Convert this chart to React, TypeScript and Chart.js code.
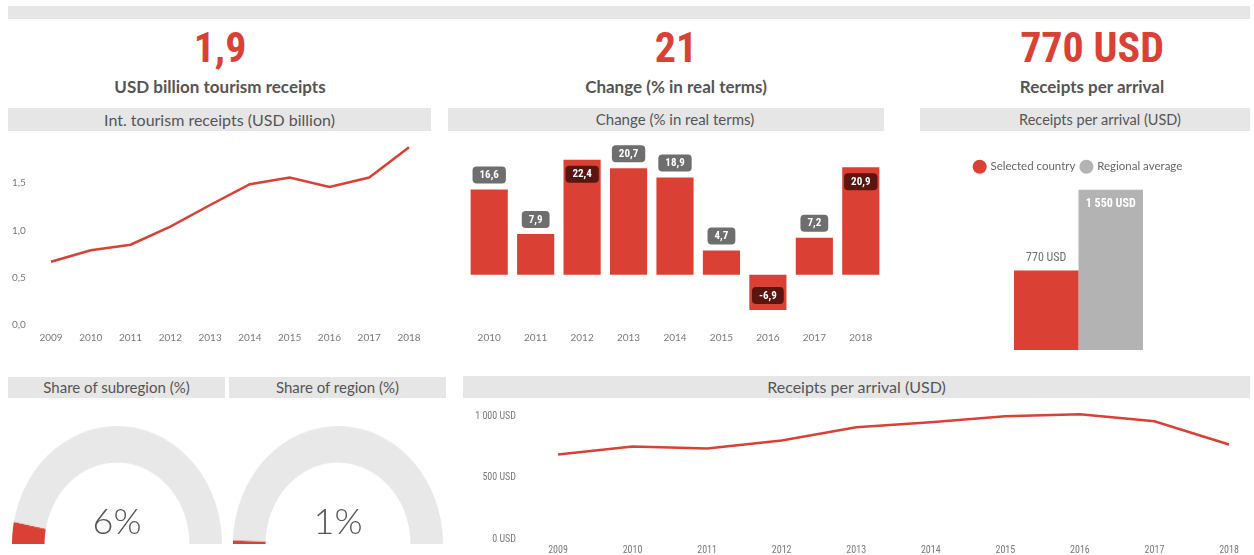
import React, { useEffect, useRef } from "react";
import { Chart, registerables } from "chart.js";

Chart.register(...registerables);

// ---------- DATA ----------
const RECEIPT_YEARS = ["2009", "2010", "2011", "2012", "2013", "2014", "2015", "2016", "2017", "2018"];
const RECEIPTS_BN = [0.67, 0.79, 0.85, 1.04, 1.27, 1.49, 1.56, 1.46, 1.56, 1.88];
const RECEIPTS_TICKS = [0, 0.5, 1.0, 1.5];

const CHANGE_YEARS = ["2010", "2011", "2012", "2013", "2014", "2015", "2016", "2017", "2018"];
const CHANGE_PCT = [16.6, 7.9, 22.4, 20.7, 18.9, 4.7, -6.9, 7.2, 20.9];

const COMPARE_LABELS = ["Selected country", "Regional average"];
const COMPARE_VALUES = [770, 1550];

const SHARE_SUBREGION = 6;
const SHARE_REGION = 1;

const ARRIVAL_YEARS = ["2009", "2010", "2011", "2012", "2013", "2014", "2015", "2016", "2017", "2018"];
const PER_ARRIVAL_USD = [689, 754, 738, 803, 910, 951, 1000, 1016, 959, 770];
const PER_ARRIVAL_TICKS = [0, 500, 1000];

const KPI_VALUES = ["1,9", "21", "770 USD"];
const KPI_LABELS = ["USD billion tourism receipts", "Change (% in real terms)", "Receipts per arrival"];

// ---------- STYLE ----------
const RED = "#db4035";
const GREY_BAR = "#b3b3b3";
const HEADER_BG = "#e6e6e6";
const GAUGE_BG = "#e8e8e8";
const TEXT = "#555555";
const TICK = "#7a7a7a";
const UI_FONT = 'Lato, "Open Sans", "Noto Sans", sans-serif';
const NARROW = '"Liberation Sans Narrow", "Roboto Condensed", Roboto, sans-serif';

const dec = (v: number, d = 1) => v.toFixed(d).replace(".", ",");
const usd = (v: number) => String(Math.round(v)).replace(/\B(?=(\d{3})+(?!\d))/g, " ") + " USD";

function ChartBox({ config, style }: { config: any; style: React.CSSProperties }) {
  const ref = useRef<HTMLCanvasElement | null>(null);
  useEffect(() => {
    const c = new Chart(ref.current as HTMLCanvasElement, config);
    return () => c.destroy();
  }, []);
  return (
    <div style={{ position: "absolute", ...style }}>
      <canvas ref={ref} />
    </div>
  );
}

function Header({ text, left, top, width, height, size, shift = 0 }: any) {
  return (
    <div
      style={{
        position: "absolute", left, top, width, height, background: HEADER_BG,
        color: TEXT, fontFamily: UI_FONT, fontSize: size, lineHeight: height + "px", textAlign: "center",
      }}
    >
      <span style={{ position: "relative", left: shift }}>{text}</span>
    </div>
  );
}

// --- configs ---
const receiptsConfig = {
  type: "line",
  data: {
    labels: RECEIPT_YEARS,
    datasets: [{ data: RECEIPTS_BN, borderColor: RED, borderWidth: 2.5, pointRadius: 0, tension: 0 }],
  },
  options: {
    animation: false, responsive: true, maintainAspectRatio: false,
    layout: { padding: { left: 4, right: 22, top: 4, bottom: 0 } },
    plugins: { legend: { display: false }, tooltip: { enabled: false } },
    scales: {
      x: {
        offset: false,
        grid: { display: false, drawTicks: false }, border: { display: false },
        ticks: { color: TICK, font: { family: UI_FONT, size: 10 }, padding: 7, maxRotation: 0 },
      },
      y: {
        min: 0, max: 2.0,
        grid: { display: false, drawTicks: false }, border: { display: false },
        afterBuildTicks: (s: any) => { s.ticks = RECEIPTS_TICKS.map((v) => ({ value: v })); },
        afterFit: (s: any) => { s.width = 39; s.paddingTop = 0; s.paddingBottom = 0; },
        ticks: { color: TICK, font: { family: UI_FONT, size: 10 }, padding: 0, crossAlign: "far", callback: (v: number) => dec(v) },
      },
    },
  },
};

const labelPlugin = {
  id: "changeLabels",
  afterDatasetsDraw(chart: any) {
    const ctx = chart.ctx;
    const meta = chart.getDatasetMeta(0);
    ctx.save();
    ctx.font = `bold 11px ${NARROW}`;
    ctx.textAlign = "center";
    ctx.textBaseline = "middle";
    meta.data.forEach((bar: any, i: number) => {
      const v = CHANGE_PCT[i];
      const txt = dec(v);
      const tw = ctx.measureText(txt).width;
      const w = tw + 14, h = 17;
      let cy: number, bg: string;
      if (v < 0) { cy = bar.y - 6 - h / 2; bg = "#5a1511"; }
      else if (v > 20.8) { cy = bar.y + 6 + h / 2; bg = "#5a1511"; }
      else { cy = bar.y - 6 - h / 2; bg = "#6e6e6e"; }
      const x0 = bar.x - w / 2, y0 = cy - h / 2;
      ctx.fillStyle = bg;
      ctx.beginPath();
      (ctx as any).roundRect(x0, y0, w, h, 4);
      ctx.fill();
      ctx.fillStyle = "#ffffff";
      ctx.fillText(txt, bar.x, cy + 0.5);
    });
    ctx.restore();
  },
};

const changeConfig = {
  type: "bar",
  data: {
    labels: CHANGE_YEARS,
    datasets: [{ data: CHANGE_PCT, backgroundColor: RED, barPercentage: 0.8, categoryPercentage: 1 }],
  },
  options: {
    animation: false, responsive: true, maintainAspectRatio: false,
    layout: { padding: { left: 18, right: 0, top: 0, bottom: 0 } },
    plugins: { legend: { display: false }, tooltip: { enabled: false } },
    scales: {
      x: {
        grid: { display: false, drawTicks: false }, border: { display: false },
        ticks: { color: TICK, font: { family: UI_FONT, size: 10 }, padding: 7, maxRotation: 0 },
      },
      y: { display: false, min: -9.8, max: 27 },
    },
  },
  plugins: [labelPlugin],
};

const compareLabelPlugin = {
  id: "compareLabels",
  afterDatasetsDraw(chart: any) {
    const ctx = chart.ctx;
    ctx.save();
    ctx.textAlign = "center";
    ctx.textBaseline = "middle";
    const b0 = chart.getDatasetMeta(0).data[0];
    ctx.font = `12px ${NARROW}`;
    ctx.fillStyle = "#707070";
    ctx.fillText(usd(COMPARE_VALUES[0]), b0.x, b0.y - 12);
    const b1 = chart.getDatasetMeta(1).data[0];
    ctx.font = `bold 12px ${NARROW}`;
    ctx.fillStyle = "#ffffff";
    ctx.fillText(usd(COMPARE_VALUES[1]), b1.x, b1.y + 14);
    ctx.restore();
  },
};

const compareConfig = {
  type: "bar",
  data: {
    labels: [""],
    datasets: COMPARE_LABELS.map((l, i) => ({
      label: l,
      data: [COMPARE_VALUES[i]],
      backgroundColor: i === 0 ? RED : GREY_BAR,
      barPercentage: 1,
      categoryPercentage: 0.483,
    })),
  },
  options: {
    animation: false, responsive: true, maintainAspectRatio: false,
    layout: { padding: { left: 25, right: 38, top: 18, bottom: 0 } },
    plugins: {
      tooltip: { enabled: false },
      legend: {
        display: true, position: "top",
        labels: {
          usePointStyle: true, pointStyle: "circle", boxWidth: 10, boxHeight: 10, padding: 6,
          color: "#666", font: { family: UI_FONT, size: 11.5 },
        },
      },
    },
    scales: {
      x: { display: false },
      y: { display: false, min: 0, max: 1620 },
    },
  },
  plugins: [compareLabelPlugin],
};

function gaugeConfig(v: number) {
  return {
    type: "doughnut",
    data: {
      labels: ["share", "rest"],
      datasets: [{ data: [v, 100 - v], backgroundColor: [RED, GAUGE_BG], borderWidth: 0 }],
    },
    options: {
      animation: false, responsive: true, maintainAspectRatio: false,
      rotation: -90, circumference: 180, cutout: "69%",
      layout: { padding: 0 },
      plugins: { legend: { display: false }, tooltip: { enabled: false } },
    },
  };
}

const arrivalConfig = {
  type: "line",
  data: {
    labels: ARRIVAL_YEARS,
    datasets: [{ data: PER_ARRIVAL_USD, borderColor: RED, borderWidth: 2.5, pointRadius: 0, tension: 0 }],
  },
  options: {
    animation: false, responsive: true, maintainAspectRatio: false,
    layout: { padding: { left: 0, right: 21, top: 4, bottom: 0 } },
    plugins: { legend: { display: false }, tooltip: { enabled: false } },
    scales: {
      x: {
        offset: false,
        grid: { display: false, drawTicks: false }, border: { display: false },
        ticks: { color: TICK, font: { family: NARROW, size: 10 }, padding: 5, maxRotation: 0 },
      },
      y: {
        min: 0, max: 1100,
        grid: { display: false, drawTicks: false }, border: { display: false },
        afterBuildTicks: (s: any) => { s.ticks = PER_ARRIVAL_TICKS.map((v) => ({ value: v })); },
        afterFit: (s: any) => { s.width = 95; s.paddingTop = 0; s.paddingBottom = 0; },
        ticks: { color: TICK, font: { family: NARROW, size: 10 }, padding: 42, callback: (v: number) => usd(v) },
      },
    },
  },
};

const KPI_X = [220, 676, 1092];

export default function App() {
  return (
    <div style={{ position: "fixed", left: 0, top: 0, width: 1254, height: 555, background: "#fff", overflow: "hidden" }}>
      <div style={{ position: "absolute", left: 8, top: 6, width: 1242, height: 13, background: HEADER_BG }} />

      {KPI_VALUES.map((v, i) => (
        <React.Fragment key={i}>
          <div style={{
            position: "absolute", left: KPI_X[i] - 200, width: 400, top: 24, textAlign: "center",
            fontFamily: NARROW, fontWeight: "bold", fontSize: 42, color: RED, lineHeight: "48px",
          }}>{v}</div>
          <div style={{
            position: "absolute", left: KPI_X[i] - 200, width: 400, top: 76, textAlign: "center",
            fontFamily: UI_FONT, fontWeight: "bold", fontSize: 17, color: TEXT, lineHeight: "22px",
          }}>{KPI_LABELS[i]}</div>
        </React.Fragment>
      ))}

      <Header text="Int. tourism receipts (USD billion)" left={8} top={108} width={423} height={23} size={16} />
      <Header text="Change (% in real terms)" left={448} top={108} width={436} height={23} size={15} shift={9} />
      <Header text="Receipts per arrival (USD)" left={920} top={108} width={330} height={23} size={14.5} shift={15} />

      <ChartBox config={receiptsConfig} style={{ left: 8, top: 132, width: 423, height: 219 }} />
      <ChartBox config={changeConfig} style={{ left: 448, top: 136, width: 436, height: 215 }} />
      <ChartBox config={compareConfig} style={{ left: 920, top: 137, width: 330, height: 213 }} />

      <Header text="Share of subregion (%)" left={8} top={377} width={217} height={21} size={15} />
      <Header text="Share of region (%)" left={229} top={377} width={217} height={21} size={15} />
      <Header text="Receipts per arrival (USD)" left={463} top={376} width={787} height={22} size={16} />

      {[SHARE_SUBREGION, SHARE_REGION].map((v, i) => (
        <React.Fragment key={i}>
          <div style={{ position: "absolute", left: [12, 233][i], top: 439, width: 210, height: 105, transform: "scaleY(1.124)", transformOrigin: "50% 100%" }}>
            <ChartBox config={gaugeConfig(v)} style={{ left: 0, top: 0, width: 210, height: 105 }} />
          </div>
          <div style={{
            position: "absolute", left: [12, 233][i], width: 210, top: 498, textAlign: "center",
            fontFamily: UI_FONT, fontWeight: 300, fontSize: 36, color: TEXT, lineHeight: "44px",
          }}>{v}%</div>
        </React.Fragment>
      ))}

      <ChartBox config={arrivalConfig} style={{ left: 463, top: 400, width: 787, height: 161 }} />
    </div>
  );
}
